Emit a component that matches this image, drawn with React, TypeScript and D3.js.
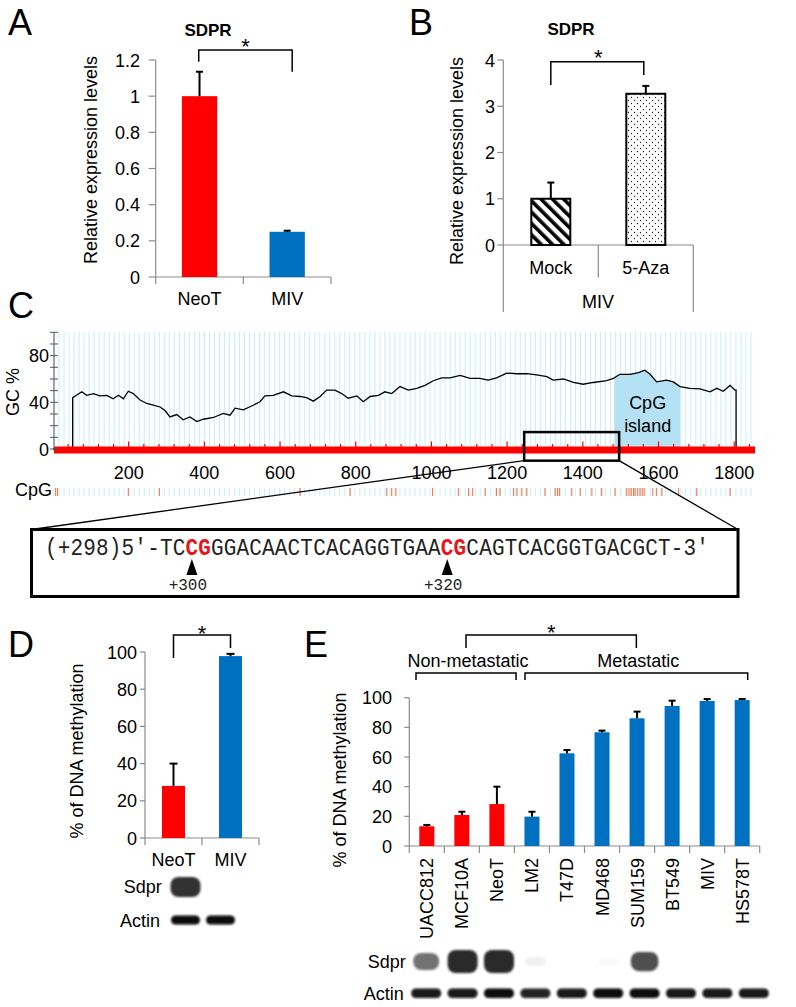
import React from 'react';
import * as d3 from 'd3';

const FONT = "'Liberation Sans', Arial, sans-serif";
const MONO = "'Liberation Mono', 'Courier New', monospace";
const RED = '#ff0000';
const BLUE = '#0070c0';
const AXIS = '#8c8c8c';

// ---------- Panel A ----------
const aCategories = ['NeoT', 'MIV'];
const aValues = [1.0, 0.25];
const aErrors = [0.135, 0.006];
const aColors = [RED, BLUE];
const aTicks = [0, 0.2, 0.4, 0.6, 0.8, 1, 1.2];

// ---------- Panel B ----------
const bCategories = ['Mock', '5-Aza'];
const bValues = [1.0, 3.27];
const bErrors = [0.35, 0.17];
const bPatterns = ['url(#stripes)', 'url(#dots)'];
const bTicks = [0, 1, 2, 3, 4];
const bGroupLabel = 'MIV';

// ---------- Panel C ----------
const gcPositions = [0, 52, 52, 62, 76, 89, 107, 124, 142, 159, 173, 186, 199, 212, 230, 248, 265, 283, 296, 309, 327, 344, 362, 380, 397, 424, 450, 468, 481, 503, 529, 547, 560, 582, 609, 631, 653, 670, 688, 706, 723, 745, 763, 780, 803, 820, 838, 860, 877, 895, 917, 939, 961, 983, 1005, 1027, 1049, 1076, 1102, 1128, 1150, 1172, 1199, 1225, 1252, 1278, 1305, 1322, 1349, 1375, 1401, 1428, 1463, 1481, 1498, 1525, 1547, 1564, 1578, 1595, 1622, 1639, 1657, 1683, 1710, 1736, 1754, 1771, 1789, 1802, 1805, 1805, 1855];
const gcValues = [0, 0, 44, 46, 49, 46, 47.5, 45.5, 46, 43, 46, 43, 49.5, 47.5, 42, 39, 37.5, 36, 33, 27.5, 29.5, 25, 27.5, 23.5, 25.5, 27, 30.5, 29, 35, 33.5, 37.5, 40.5, 45.5, 46, 49, 45.5, 45, 44, 41, 45, 50.5, 50.5, 47.5, 43.5, 45.5, 40.5, 45, 46, 49, 47.5, 53.5, 50.5, 52, 54.5, 58.5, 61, 61, 63, 60.5, 60.5, 59, 61, 65, 64.5, 64.5, 63.5, 62, 59, 60, 57, 55.5, 57, 58.5, 60.5, 64, 64, 65.5, 67.5, 64, 57.5, 59, 57.5, 53.5, 52, 51.5, 49, 52, 49.5, 54.5, 50.5, 50.5, 0, 0];
const cpgSites = [7, 12, 199, 281, 653, 785, 882, 895, 906, 1003, 1071, 1098, 1109, 1142, 1172, 1181, 1217, 1226, 1239, 1252, 1300, 1327, 1333, 1338, 1371, 1393, 1424, 1450, 1485, 1516, 1522, 1528, 1534, 1538, 1545, 1551, 1557, 1562, 1585, 1595, 1609, 1653, 1701, 1789];
const cpgIsland = [1483, 1657];
const cXTicks = [200, 400, 600, 800, 1000, 1200, 1400, 1600, 1800];
const cYTicks = [0, 40, 80];
const zoomRegionBp = [1245, 1496];
const zoomRegionGc = [-10, 14.5];

// ---------- Sequence ----------
const seqParts = [
  { text: '(+298)5\u2032-TC', cpg: false },
  { text: 'CG', cpg: true },
  { text: 'GGACAACTCACAGGTGAA', cpg: false },
  { text: 'CG', cpg: true },
  { text: 'CAGTCACGGTGACGCT-3\u2032', cpg: false },
];
const seqSiteIndex = [11, 31];
const seqSiteLabels = ['+300', '+320'];

// ---------- Panel D ----------
const dCategories = ['NeoT', 'MIV'];
const dValues = [28, 97.8];
const dErrors = [12, 1.2];
const dColors = [RED, BLUE];
const dTicks = [0, 20, 40, 60, 80, 100];
const dSdprSignal = [1, 0];
const dActinSignal = [1, 1];

// ---------- Panel E ----------
const eCategories = ['UACC812', 'MCF10A', 'NeoT', 'LM2', 'T47D', 'MD468', 'SUM159', 'BT549', 'MIV', 'HS578T'];
const eValues = [13.3, 20.9, 28.3, 19.8, 62.5, 76.7, 86.1, 94.4, 97.8, 98.4];
const eErrors = [0.9, 2.2, 11.7, 3.3, 2.2, 1.1, 4.5, 3.6, 1.3, 0.7];
const eColors = [RED, RED, RED, BLUE, BLUE, BLUE, BLUE, BLUE, BLUE, BLUE];
const eTicks = [0, 20, 40, 60, 80, 100];
const eGroups = [
  { label: 'Non-metastatic', first: 'UACC812', last: 'NeoT' },
  { label: 'Metastatic', first: 'LM2', last: 'HS578T' },
];
const eSdprSignal = [0.6, 1, 1, 0.06, 0, 0.02, 0.75, 0, 0, 0];
const eActinSignal = [0.95, 0.95, 1, 0.9, 0.95, 1, 1, 0.95, 0.95, 0.95];

function ErrorBar({ cx, y0, y1, cap }: { cx: number; y0: number; y1: number; cap: number }) {
  return (
    <g stroke="#000" strokeWidth={2}>
      <line x1={cx} x2={cx} y1={y0} y2={y1} />
      <line x1={cx - cap / 2} x2={cx + cap / 2} y1={y1} y2={y1} />
    </g>
  );
}

function YAxis({ x, scale, ticks, labelRight, tickLen = 6, fmt = (v: number) => String(v) }: any) {
  const [d0, d1] = scale.domain();
  return (
    <g>
      <line x1={x} x2={x} y1={scale(d0)} y2={scale(d1)} stroke={AXIS} strokeWidth={1.2} />
      {ticks.map((t: number) => (
        <g key={t}>
          <line x1={x - tickLen} x2={x} y1={scale(t)} y2={scale(t)} stroke={AXIS} strokeWidth={1.2} />
          <text x={labelRight} y={scale(t) + 6.5} textAnchor="end" fontSize={18}>{fmt(t)}</text>
        </g>
      ))}
    </g>
  );
}

function Star({ x, cy }: { x: number; cy: number }) {
  return <text x={x} y={cy + 13} textAnchor="middle" fontSize={22}>*</text>;
}

export default function App() {
  // Panel A
  const xA = d3.scaleBand<string>().domain(aCategories).range([155.7, 331]);
  const yA = d3.scaleLinear().domain([0, 1.2]).range([277, 60]);
  const aBarW = 35.3;
  // Panel B
  const xB = d3.scaleBand<string>().domain(bCategories).range([503.3, 693.3]);
  const yB = d3.scaleLinear().domain([0, 4]).range([245, 60]);
  const bBarW = 39;
  // Panel C
  const xC = d3.scaleLinear().domain([0, 1855]).range([53, 755]);
  const yC = d3.scaleLinear().domain([0, 100]).range([449, 332.3]);
  const gcData: [number, number][] = gcPositions.map((p, i) => [p, gcValues[i]]);
  const gcLine = d3.line<[number, number]>().x(d => xC(d[0])).y(d => yC(d[1]));
  const interp = (p: number) => {
    for (let i = 1; i < gcData.length; i++) {
      const [p0, v0] = gcData[i - 1];
      const [p1, v1] = gcData[i];
      if (p >= p0 && p <= p1 && p1 > p0) return v0 + ((v1 - v0) * (p - p0)) / (p1 - p0);
    }
    return 0;
  };
  const islandPts: [number, number][] = [
    [cpgIsland[0], interp(cpgIsland[0])],
    ...gcData.filter(d => d[0] > cpgIsland[0] && d[0] < cpgIsland[1]),
    [cpgIsland[1], interp(cpgIsland[1])],
  ];
  const islandArea = d3.area<[number, number]>().x(d => xC(d[0])).y0(yC(0)).y1(d => yC(d[1]));
  const gridLines = d3.range(0, 1855, 13.25);
  const redTicks = d3.range(40, 1855, 40);
  const cMinorY = d3.range(0, 101, 10);
  // Sequence
  const charX = d3.scaleLinear().domain([0, 52]).range([45, 709]);
  let idx = 0;
  const seqPlaced = seqParts.map(p => {
    const start = idx;
    idx += p.text.length;
    return { ...p, start };
  });
  const zx0 = xC(zoomRegionBp[0]);
  const zx1 = xC(zoomRegionBp[1]);
  const zy0 = yC(zoomRegionGc[1]);
  const zy1 = yC(zoomRegionGc[0]);
  const seqBox = { x0: 31.5, x1: 738, y0: 529.5, y1: 596.5 };
  // Panel D
  const xD = d3.scaleBand<string>().domain(dCategories).range([145, 259]);
  const yD = d3.scaleLinear().domain([0, 100]).range([838, 652]);
  const dBarW = 23;
  const laneD = d3.scaleBand<string>().domain(dCategories).range([168, 238]);
  // Panel E
  const xE = d3.scaleBand<string>().domain(eCategories).range([409.3, 759.7]);
  const yE = d3.scaleLinear().domain([0, 100]).range([846, 697.7]);
  const eBarW = 15;
  const laneE = d3.scaleBand<string>().domain(eCategories).range([408, 772]);
  const eBounds = d3.range(0, eCategories.length + 1).map(i => xE.range()[0] + i * xE.step());
  const groupGeom = eGroups.map((g, gi) => {
    const l = (xE(g.first) as number) + (gi === 0 ? 6.7 : 10.6);
    const r = (xE(g.last) as number) + xE.bandwidth() + (gi === 0 ? 1.6 : -12);
    return { ...g, l, r, c: (l + r) / 2 };
  });

  return (
    <svg width={796} height={1007} viewBox="0 0 796 1007" style={{ position: 'absolute', left: 0, top: 0 }} fontFamily={FONT}>
      <defs>
        <pattern id="stripes" width="8" height="8" patternUnits="userSpaceOnUse" patternTransform="rotate(-45)">
          <rect width="8" height="8" fill="#fff" />
          <rect x="0" y="0" width="3.6" height="8" fill="#000" />
        </pattern>
        <pattern id="dots" width="6" height="6" patternUnits="userSpaceOnUse">
          <rect width="6" height="6" fill="#fff" />
          <circle cx="1.5" cy="1.5" r="0.65" fill="#222" />
          <circle cx="4.5" cy="4.5" r="0.65" fill="#222" />
        </pattern>
        <filter id="blurS" x="-30%" y="-50%" width="160%" height="200%">
          <feGaussianBlur stdDeviation="1.2" />
        </filter>
        <filter id="blurA" x="-30%" y="-50%" width="160%" height="200%">
          <feGaussianBlur stdDeviation="0.8" />
        </filter>
      </defs>
      <rect width={796} height={1007} fill="#fff" />

      {/* ---------------- Panel A ---------------- */}
      <text x={8} y={35} fontSize={36}>A</text>
      <text x={208} y={36} textAnchor="middle" fontSize={17} fontWeight="bold">SDPR</text>
      <text transform={`translate(96.5,160) rotate(-90)`} textAnchor="middle" fontSize={18}>Relative expression levels</text>
      <YAxis x={155.7} scale={yA} ticks={aTicks} labelRight={140} tickLen={7} />
      <line x1={155.7} x2={331} y1={yA(0)} y2={yA(0)} stroke={AXIS} strokeWidth={1.2} />
      {[0, 1, 2].map(i => (
        <line key={i} x1={155.7 + i * xA.step()} x2={155.7 + i * xA.step()} y1={yA(0)} y2={yA(0) + 7} stroke={AXIS} strokeWidth={1.2} />
      ))}
      {aCategories.map((c, i) => {
        const cx = (xA(c) as number) + xA.bandwidth() / 2;
        return (
          <g key={c}>
            <rect x={cx - aBarW / 2} y={yA(aValues[i])} width={aBarW} height={yA(0) - yA(aValues[i])} fill={aColors[i]} />
            <ErrorBar cx={cx} y0={yA(aValues[i])} y1={yA(aValues[i] + aErrors[i])} cap={7} />
            <text x={cx} y={304.5} textAnchor="middle" fontSize={18}>{c}</text>
          </g>
        );
      })}
      {(() => {
        const l = (xA('NeoT') as number) + xA.bandwidth() / 2 - 0.8;
        const r = (xA('MIV') as number) + xA.bandwidth() / 2 + 5;
        return (
          <g>
            <path d={`M${l},61.7 V50 H${r} V71.7`} fill="none" stroke="#000" strokeWidth={1.5} />
            <Star x={(l + r) / 2} cy={41} />
          </g>
        );
      })()}

      {/* ---------------- Panel B ---------------- */}
      <text x={409} y={35} fontSize={36}>B</text>
      <text x={571} y={35} textAnchor="middle" fontSize={17} fontWeight="bold">SDPR</text>
      <text transform={`translate(463,161) rotate(-90)`} textAnchor="middle" fontSize={18}>Relative expression levels</text>
      <YAxis x={503.3} scale={yB} ticks={bTicks} labelRight={495} tickLen={6} />
      <line x1={503.3} x2={693.3} y1={yB(0)} y2={yB(0)} stroke={AXIS} strokeWidth={1.2} />
      <line x1={503.3} x2={503.3} y1={yB(0)} y2={312} stroke={AXIS} strokeWidth={1.2} />
      <line x1={693.3} x2={693.3} y1={yB(0)} y2={312} stroke={AXIS} strokeWidth={1.2} />
      <line x1={503.3 + xB.step()} x2={503.3 + xB.step()} y1={yB(0)} y2={277.5} stroke={AXIS} strokeWidth={1.2} />
      {bCategories.map((c, i) => {
        const cx = (xB(c) as number) + xB.bandwidth() / 2;
        return (
          <g key={c}>
            <rect x={cx - bBarW / 2} y={yB(bValues[i])} width={bBarW} height={yB(0) - yB(bValues[i])} fill={bPatterns[i]} stroke="#000" strokeWidth={2} />
            <ErrorBar cx={cx} y0={yB(bValues[i])} y1={yB(bValues[i] + bErrors[i])} cap={7} />
            <text x={cx} y={273.5} textAnchor="middle" fontSize={18}>{c}</text>
          </g>
        );
      })}
      <text x={598} y={308} textAnchor="middle" fontSize={18}>{bGroupLabel}</text>
      {(() => {
        const l = (xB('Mock') as number) + xB.bandwidth() / 2;
        const r = (xB('5-Aza') as number) + xB.bandwidth() / 2 - 2;
        return (
          <g>
            <path d={`M${l},85 V61.7 H${r} V75`} fill="none" stroke="#000" strokeWidth={1.5} />
            <Star x={(l + r) / 2 + 1} cy={51.5} />
          </g>
        );
      })()}

      {/* ---------------- Panel C ---------------- */}
      <text x={8} y={318} fontSize={36}>C</text>
      {gridLines.map(v => (
        <line key={v} x1={xC(v) + 1} x2={xC(v) + 1} y1={332} y2={446} stroke="#c8eef6" strokeWidth={1} />
      ))}
      <path d={islandArea(islandPts) as string} fill="#b5e1f5" />
      <text x={xC((cpgIsland[0] + cpgIsland[1]) / 2) + 0.5} y={408.5} textAnchor="middle" fontSize={18}>CpG</text>
      <text x={xC((cpgIsland[0] + cpgIsland[1]) / 2) + 0.5} y={431.5} textAnchor="middle" fontSize={18}>island</text>
      <path d={gcLine(gcData) as string} fill="none" stroke="#000" strokeWidth={1.3} />
      <rect x={xC(0) + 1} y={446.5} width={xC(1855) - xC(0) - 1} height={7} fill={RED} />
      {redTicks.map(v => (
        <line key={v} x1={xC(v)} x2={xC(v)} y1={v % 200 === 0 ? 441.5 : 444} y2={447} stroke={RED} strokeWidth={1.2} />
      ))}
      <line x1={54} x2={54} y1={yC(100)} y2={yC(0)} stroke="#555" strokeWidth={1} />
      {cMinorY.map(t => (
        <line key={t} x1={50} x2={58} y1={yC(t)} y2={yC(t)} stroke="#555" strokeWidth={1} />
      ))}
      {cYTicks.map(t => (
        <text key={t} x={49} y={yC(t) + 6.5} textAnchor="end" fontSize={18}>{t}</text>
      ))}
      <text transform={`translate(18.5,392) rotate(-90)`} textAnchor="middle" fontSize={18}>GC %</text>
      {cXTicks.map(t => (
        <text key={t} x={xC(t)} y={479} textAnchor="middle" fontSize={18}>{t}</text>
      ))}
      <text x={52} y={496} textAnchor="end" fontSize={18}>CpG</text>
      {gridLines.map(v => (
        <line key={'c' + v} x1={xC(v) + 1} x2={xC(v) + 1} y1={488} y2={496} stroke="#c8eef6" strokeWidth={1} />
      ))}
      {cpgSites.map((v, i) => (
        <line key={'s' + i} x1={xC(v)} x2={xC(v)} y1={488} y2={496} stroke="#f0794f" strokeWidth={1.1} />
      ))}
      {/* zoom box and connector lines */}
      <rect x={zx0} y={zy0} width={zx1 - zx0} height={zy1 - zy0} fill="none" stroke="#000" strokeWidth={2.5} />
      <line x1={zx0} y1={zy1} x2={seqBox.x0} y2={seqBox.y0} stroke="#000" strokeWidth={1.3} />
      <line x1={zx1} y1={zy1} x2={seqBox.x1} y2={seqBox.y0} stroke="#000" strokeWidth={1.3} />
      <rect x={seqBox.x0} y={seqBox.y0} width={seqBox.x1 - seqBox.x0} height={seqBox.y1 - seqBox.y0} fill="#fff" stroke="#000" strokeWidth={3} />
      <g transform="translate(0,555) scale(1,1.12)">
        <text y={0} fontSize={21} fontFamily={MONO} fill="#222">
          {seqPlaced.map((p, i) => (
            <tspan key={i}
              x={p.text.split('').map((_, k) => charX(p.start + k).toFixed(2)).join(' ')}
              fontWeight={p.cpg ? 'bold' : 'normal'} fill={p.cpg ? '#e8141c' : '#222'}>
              {p.text}
            </tspan>
          ))}
        </text>
      </g>
      {seqSiteIndex.map((s, i) => {
        const cx = charX(s + 0.5);
        return (
          <g key={s}>
            <path d={`M${cx},559 L${cx + 5.5},575 L${cx - 5.5},575 Z`} fill="#000" />
            <text x={cx - 4} y={590} textAnchor="middle" fontSize={16} fontFamily={MONO} fill="#222">{seqSiteLabels[i]}</text>
          </g>
        );
      })}

      {/* ---------------- Panel D ---------------- */}
      <text x={8} y={657} fontSize={36}>D</text>
      <text transform={`translate(83,751) rotate(-90)`} textAnchor="middle" fontSize={18}>% of DNA methylation</text>
      <YAxis x={145} scale={yD} ticks={dTicks} labelRight={137} tickLen={5} />
      <line x1={145} x2={259} y1={yD(0)} y2={yD(0)} stroke={AXIS} strokeWidth={1.2} />
      {[0, 1, 2].map(i => (
        <line key={i} x1={145 + i * xD.step()} x2={145 + i * xD.step()} y1={yD(0)} y2={yD(0) + 7} stroke={AXIS} strokeWidth={1.2} />
      ))}
      {dCategories.map((c, i) => {
        const cx = (xD(c) as number) + xD.bandwidth() / 2;
        return (
          <g key={c}>
            <rect x={cx - dBarW / 2} y={yD(dValues[i])} width={dBarW} height={yD(0) - yD(dValues[i])} fill={dColors[i]} />
            <ErrorBar cx={cx} y0={yD(dValues[i])} y1={yD(dValues[i] + dErrors[i])} cap={8} />
            <text x={cx} y={866} textAnchor="middle" fontSize={18}>{c}</text>
          </g>
        );
      })}
      {(() => {
        const l = (xD('NeoT') as number) + xD.bandwidth() / 2;
        const r = (xD('MIV') as number) + xD.bandwidth() / 2;
        return (
          <g>
            <path d={`M${l},658 V635 H${r} V648`} fill="none" stroke="#000" strokeWidth={1.5} />
            <Star x={(l + r) / 2} cy={628} />
          </g>
        );
      })()}
      <text x={161.7} y={893} textAnchor="end" fontSize={18}>Sdpr</text>
      <text x={160} y={926.5} textAnchor="end" fontSize={18}>Actin</text>
      {dCategories.map((c, i) => {
        const cx = (laneD(c) as number) + laneD.bandwidth() / 2;
        const s = dSdprSignal[i];
        return (
          <g key={c}>
            {s > 0 && (
              <rect x={cx - 15} y={887 - 10} width={30} height={20} rx={8} fill="#333" opacity={s} filter="url(#blurS)" />
            )}
            <rect x={cx - 14.5} y={915.5} width={29} height={9} rx={4.5} fill="#0c0c0c" opacity={dActinSignal[i]} filter="url(#blurA)" />
          </g>
        );
      })}

      {/* ---------------- Panel E ---------------- */}
      <text x={304} y={657} fontSize={36}>E</text>
      {groupGeom.map(g => (
        <g key={g.label}>
          <text x={g.c + 2} y={666.7} textAnchor="middle" fontSize={18}>{g.label}</text>
          <path d={`M${g.l},680 V673 H${g.r} V680`} fill="none" stroke="#000" strokeWidth={1.5} />
        </g>
      ))}
      <path d={`M${groupGeom[0].c},648 V635 H${groupGeom[1].c} V648`} fill="none" stroke="#000" strokeWidth={1.5} />
      <Star x={(groupGeom[0].c + groupGeom[1].c) / 2} cy={627} />
      <text transform={`translate(345.5,780) rotate(-90)`} textAnchor="middle" fontSize={18}>% of DNA methylation</text>
      <YAxis x={409.3} scale={yE} ticks={eTicks} labelRight={392} tickLen={5} />
      <line x1={409.3} x2={759.7} y1={yE(0)} y2={yE(0)} stroke={AXIS} strokeWidth={1.2} />
      {eBounds.map((b, i) => (
        <line key={i} x1={b} x2={b} y1={yE(0)} y2={yE(0) + 7} stroke={AXIS} strokeWidth={1.2} />
      ))}
      {eCategories.map((c, i) => {
        const cx = (xE(c) as number) + xE.bandwidth() / 2;
        return (
          <g key={c}>
            <rect x={cx - eBarW / 2} y={yE(eValues[i])} width={eBarW} height={yE(0) - yE(eValues[i])} fill={eColors[i]} />
            <ErrorBar cx={cx} y0={yE(eValues[i])} y1={yE(eValues[i] + eErrors[i])} cap={7} />
            <text transform={`translate(${cx + 6.5},858) rotate(-90)`} textAnchor="end" fontSize={18}>{c}</text>
          </g>
        );
      })}
      <text x={405.7} y={968} textAnchor="end" fontSize={18}>Sdpr</text>
      <text x={403.8} y={1000} textAnchor="end" fontSize={18}>Actin</text>
      {eCategories.map((c, i) => {
        const cx = (laneE(c) as number) + laneE.bandwidth() / 2;
        const s = eSdprSignal[i];
        const w = 20 + 10 * s;
        const h = 8 + 15 * s;
        return (
          <g key={c}>
            {s > 0 && (
              <rect x={cx - w / 2} y={961.5 - h / 2} width={w} height={h} rx={Math.min(8, h / 2)} fill="#2a2a2a" opacity={Math.min(1, s * 1.1)} filter="url(#blurS)" />
            )}
            <rect x={cx - 15} y={988.5} width={30} height={9.5} rx={4.5} fill="#0a0a0a" opacity={eActinSignal[i]} filter="url(#blurA)" />
          </g>
        );
      })}
    </svg>
  );
}
